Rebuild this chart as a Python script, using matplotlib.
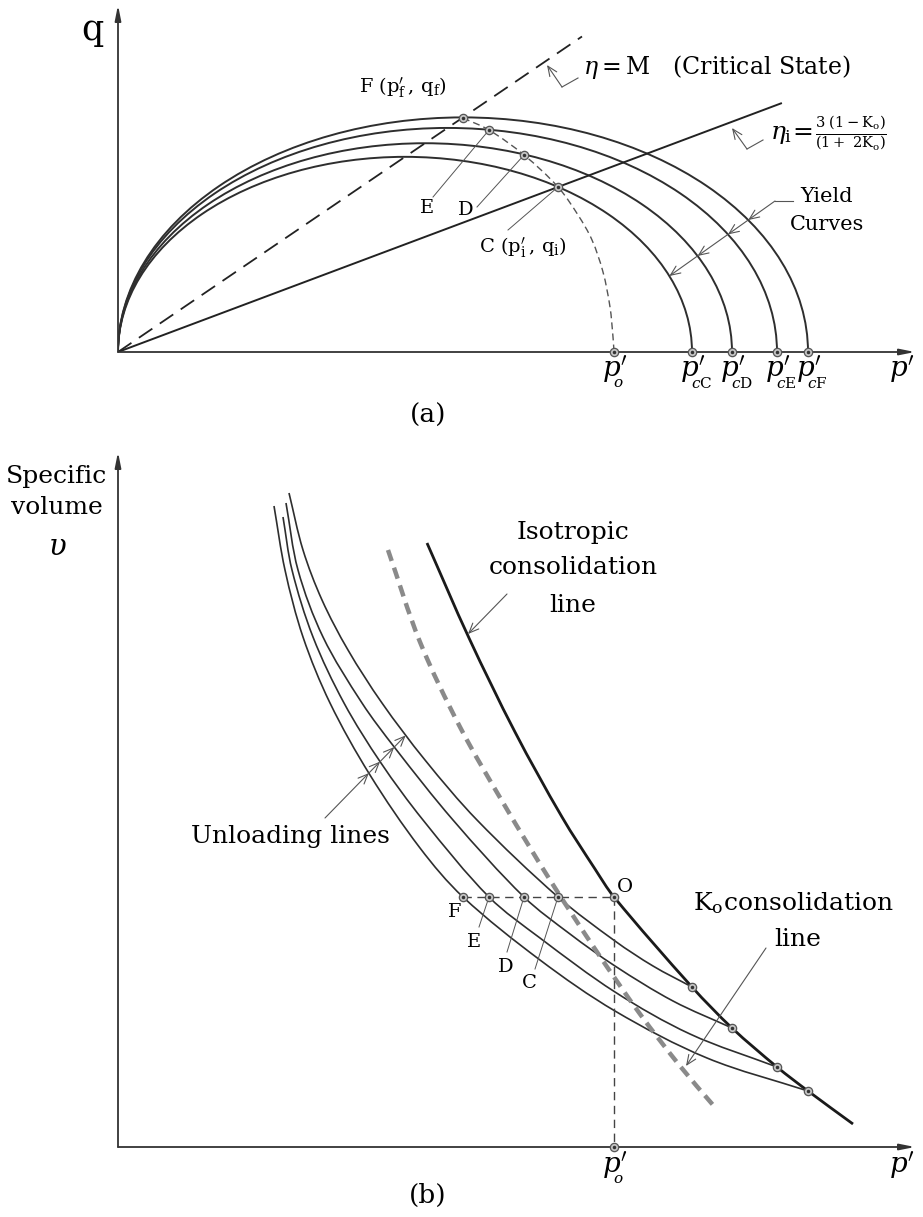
import numpy as np
import matplotlib
matplotlib.use("Agg")
import matplotlib.pyplot as plt
from matplotlib.path import Path
from matplotlib.patches import PathPatch, Arc

plt.rcParams['font.family'] = 'DejaVu Serif'
plt.rcParams['mathtext.fontset'] = 'dejavuserif'

# ---- data (arbitrary stress / volume units) ----
M = 0.68                      # critical state slope
eta_i = 0.375                 # Ko stress ratio
p_o = 496
names = ['C', 'D', 'E', 'F']
p_c = [574, 614, 659, 690]    # preconsolidation pressures
p_path = [440, 406, 371, 345] # C, D, E, F
q_path = [165, 197, 222, 234]

# undrained path (dashed) in p'-q
sp_p = [345, 371, 406, 440, 460, 474, 485, 492, 495, 496]
sp_q = [234, 222, 197, 165, 137, 112, 80, 45, 15, 0]

# v - p' plane
v_O = 250
v_ncl_pc = [160, 119, 80, 56]
ncl_p = [309, 351, 397, 444, 477, 496, 574, 614, 659, 690, 735]
ncl_v = [604, 509, 415, 330, 278, 250, 160, 119, 80, 56, 23]
k0_p = [270, 302, 342, 387, 432, 479, 522, 562, 595]
k0_v = [597, 505, 420, 341, 267, 195, 133, 81, 42]
url_p = {
    'F': [156, 167, 185, 212, 252, 302, 345, 422, 497, 589, 690],
    'E': [165, 174, 195, 226, 263, 305, 371, 422, 497, 572, 659],
    'D': [168, 180, 205, 244, 277, 335, 406, 452, 497, 555, 614],
    'C': [171, 185, 204, 230, 264, 307, 359, 440, 497, 535, 574],
}
url_v = {
    'F': [641, 577, 510, 444, 372, 299, 250, 187, 136, 89, 56],
    'E': [630, 577, 510, 444, 384, 327, 250, 209, 155, 113, 80],
    'D': [644, 577, 510, 444, 399, 327, 250, 213, 181, 146, 119],
    'C': [654, 597, 547, 497, 444, 387, 327, 250, 206, 181, 160],
}

LC = '#2e2e2e'
GC = '#555555'


def smooth(xs, ys):
    # smooth curve through the read points (chord-length Hermite -> cubic Bezier)
    P = np.column_stack([xs, ys]).astype(float)
    n = len(P)
    d = np.hypot(*np.diff(P, axis=0).T)
    m = np.zeros_like(P)
    m[0] = (P[1] - P[0]) / d[0]
    m[-1] = (P[-1] - P[-2]) / d[-1]
    for i in range(1, n - 1):
        m[i] = (P[i + 1] - P[i - 1]) / (d[i - 1] + d[i])
    verts = [P[0]]
    codes = [Path.MOVETO]
    for i in range(n - 1):
        verts += [P[i] + m[i] * d[i] / 3, P[i + 1] - m[i + 1] * d[i] / 3, P[i + 1]]
        codes += [Path.CURVE4] * 3
    return Path(verts, codes)


def crossing(path, p0, dvec):
    pts = np.vstack([b(np.linspace(0, 1, 40)) for b, c in path.iter_bezier() if c != Path.MOVETO])
    p0 = np.asarray(p0, float)
    dvec = np.asarray(dvec, float) / np.hypot(*dvec)
    nrm = np.array([-dvec[1], dvec[0]])
    s = (pts - p0) @ nrm
    best = None
    for i in np.where(np.sign(s[:-1]) != np.sign(s[1:]))[0]:
        f = s[i] / (s[i] - s[i + 1])
        q = pts[i] + f * (pts[i + 1] - pts[i])
        t = (q - p0) @ dvec
        if t > 0 and (best is None or t < best[0]):
            best = (t, q)
    return tuple(best[1])


def dots(ax, x, y):
    ax.plot(x, y, 'o', ms=6, mfc='#c4c4c4', mec='#555', mew=0.9, zorder=5, clip_on=False)
    ax.plot(x, y, 'o', ms=1.5, color='#333', zorder=6, clip_on=False)


def axis_arrow(ax, xy):
    ax.annotate('', xy=xy, xytext=(0, 0),
                arrowprops=dict(arrowstyle='-|>,head_length=0.9,head_width=0.18',
                                color='#333', lw=1.3, shrinkA=0, shrinkB=0))


def pointer(ax, tip, tail, lw=0.8):
    ax.annotate('', xy=tip, xytext=tail,
                arrowprops=dict(arrowstyle='->,head_length=0.7,head_width=0.3',
                                color=GC, lw=lw, shrinkA=0, shrinkB=0))


def pprime(ax, x, y, sub):
    ax.text(x + 1, y + 2, r"$p^{\prime}$", fontsize=20, ha='center', va='center')
    if sub:
        ax.text(x - 1, y - 12, sub, fontsize=11, ha='left', va='center')


fig = plt.figure(figsize=(9.23, 12.17), dpi=100)

# ================= (a) =================
ax = fig.add_axes([118 / 923, 865 / 1217, 805 / 923, 352 / 1217])
ax.set_xlim(0, 805)
ax.set_ylim(0, 352)
ax.axis('off')

axis_arrow(ax, (797, 0))
axis_arrow(ax, (0, 347))

for pc in p_c:
    ax.add_patch(Arc((pc / 2, 0), pc, M * pc, theta1=0, theta2=180, color=LC, lw=1.4))

ax.plot([0, 464], [0, M * 464], color='#222', lw=1.3, dashes=(9, 5))
ax.plot([0, 663], [0, eta_i * 663], color='#222', lw=1.4)

ax.add_patch(PathPatch(smooth(sp_p, sp_q), fill=False, ec=GC, lw=1.0, ls=(0, (5, 3))))

dots(ax, p_path, q_path)
dots(ax, [p_o] + p_c, [0] * 5)

ax.text(-26, 322, 'q', fontsize=25, ha='center', va='center')
ax.text(285, 264, r'F $(\mathrm{p}^{\prime}_{\mathrm{f}}\,,\,\mathrm{q}_{\mathrm{f}})$', fontsize=14,
        ha='center', va='center')
ax.text(465, 285, r'$\eta = \mathrm{M}$   (Critical State)', fontsize=17, ha='left', va='center')
ax.plot([460, 444], [274, 265], color=GC, lw=0.8)
pointer(ax, (429, 287), (444, 265))

ax.text(652, 218, r'$\eta_{\mathrm{i}}\!=$', fontsize=18, ha='left', va='center')
ax.text(697, 219, r'$\frac{3\ (1-\mathrm{K}_{\mathrm{o}})}{(1+\ 2\mathrm{K}_{\mathrm{o}})}$', fontsize=15,
        ha='left', va='center')
ax.plot([645, 629], [212, 203], color=GC, lw=0.8)
pointer(ax, (614, 224), (629, 203))

ax.text(309, 144, 'E', fontsize=14, ha='center', va='center')
ax.plot([315, p_path[2]], [155, q_path[2]], color=GC, lw=0.7)
ax.text(348, 142, 'D', fontsize=14, ha='center', va='center')
ax.plot([359, p_path[1]], [145, q_path[1]], color=GC, lw=0.7)
ax.text(405, 104, r'C $(\mathrm{p}^{\prime}_{\mathrm{i}}\,,\,\mathrm{q}_{\mathrm{i}})$', fontsize=14,
        ha='center', va='center')
ax.plot([390, p_path[0]], [122, q_path[0]], color=GC, lw=0.7)

# yield curves leader
ax.text(709, 155, 'Yield', fontsize=15, ha='center', va='center')
ax.text(709, 127, 'Curves', fontsize=15, ha='center', va='center')
start = np.array([657.0, 151.0])
ax.plot([675, 657], [151, 151], color=GC, lw=0.8)
t = np.linspace(0, 200, 4001)
lp = start[0] - t
lq = start[1] - 0.71 * t
prev = start
for pc in p_c[::-1]:
    qe = M * np.sqrt(np.clip(lp * (pc - lp), 0, None))
    k = np.argmax(lq < qe)
    tip = (lp[k], lq[k])
    pointer(ax, tip, prev)
    prev = tip

pprime(ax, p_o, -19, r"$o$")
for x, n in zip(p_c, names):
    pprime(ax, x, -19, r"$c\mathrm{%s}$" % n)
pprime(ax, 783, -19, None)
ax.text(310, -63, '(a)', fontsize=19, ha='center', va='center')

# ================= (b) =================
bx = fig.add_axes([118 / 923, 70 / 1217, 805 / 923, 727 / 1217])
bx.set_xlim(0, 805)
bx.set_ylim(0, 727)
bx.axis('off')

axis_arrow(bx, (797, 0))
axis_arrow(bx, (0, 695))

bx.add_patch(PathPatch(smooth(ncl_p, ncl_v), fill=False, ec='#1a1a1a', lw=2.0))
url_paths = {}
for n in names:
    url_paths[n] = smooth(url_p[n], url_v[n])
    bx.add_patch(PathPatch(url_paths[n], fill=False, ec=LC, lw=1.2))
bx.add_patch(PathPatch(smooth(k0_p, k0_v), fill=False, ec='#8a8a8a', lw=3.2, ls=(0, (2.6, 1.6))))

bx.plot([p_path[3], p_o], [v_O, v_O], color='#444', lw=1.0, dashes=(6, 4))
bx.plot([p_o, p_o], [v_O, 0], color='#444', lw=1.0, dashes=(6, 4))
dots(bx, p_path + [p_o], [v_O] * 5)
dots(bx, p_c, v_ncl_pc)
dots(bx, [p_o], [0])

bx.text(-61, 670, 'Specific', fontsize=18, ha='center', va='center')
bx.text(-61, 639, 'volume', fontsize=18, ha='center', va='center')
bx.text(-61, 600, r'$\upsilon$', fontsize=21, ha='center', va='center')

for s, y in zip(['Isotropic', 'consolidation', 'line'], [614, 579, 542]):
    bx.text(455, y, s, fontsize=18, ha='center', va='center')
pointer(bx, (350, 513), (389, 553))

bx.text(172, 310, 'Unloading lines', fontsize=18, ha='center', va='center')
lead0 = (207, 329)
lead_dir = (83, 85)
prev = lead0
for n in ['F', 'E', 'D', 'C']:
    tip = crossing(url_paths[n], lead0, lead_dir)
    pointer(bx, tip, prev)
    prev = tip

bx.text(337, 235, 'F', fontsize=14, ha='center', va='center')
bx.text(356, 205, 'E', fontsize=14, ha='center', va='center')
bx.plot([361, p_path[2]], [220, v_O], color=GC, lw=0.7)
bx.text(388, 180, 'D', fontsize=14, ha='center', va='center')
bx.plot([389, p_path[1]], [195, v_O], color=GC, lw=0.7)
bx.text(411, 164, 'C', fontsize=14, ha='center', va='center')
bx.plot([417, p_path[0]], [178, v_O], color=GC, lw=0.7)
bx.text(507, 260, 'O', fontsize=14, ha='center', va='center')

bx.text(575, 244, r'$\mathrm{K}_{\mathrm{o}}$consolidation', fontsize=18, ha='left', va='center')
bx.text(680, 207, 'line', fontsize=18, ha='center', va='center')
pointer(bx, (568, 81), (648, 199))

pprime(bx, p_o, -20, r"$o$")
pprime(bx, 783, -20, None)
bx.text(310, -48, '(b)', fontsize=19, ha='center', va='center')

fig.savefig('out.png', dpi=100)
